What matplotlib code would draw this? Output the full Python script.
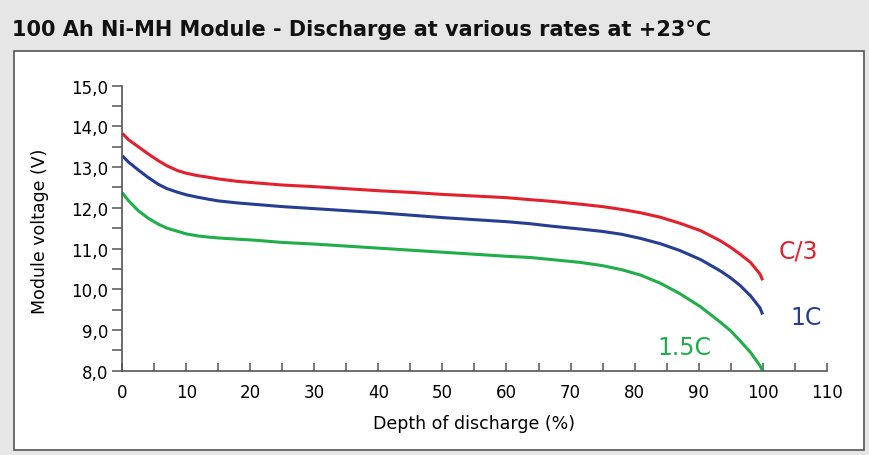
import numpy as np
import matplotlib.pyplot as plt
from matplotlib.patches import Rectangle
from matplotlib.ticker import MultipleLocator

# --- DATA ---
dod = [0, 1, 2.5, 4, 5.6, 7, 8.7, 10, 11.8, 13.5, 15, 18, 20.7, 25, 30, 35, 40, 45, 50, 55,
       60, 63.7, 67, 71.5, 75, 78, 80.9, 84, 87.1, 90.3, 93.4, 95, 96.5, 98.1, 99.6, 100]
v_c3 = [13.83, 13.67, 13.50, 13.33, 13.16, 13.03, 12.91, 12.85, 12.79, 12.75, 12.71, 12.65,
        12.615, 12.56, 12.52, 12.47, 12.42, 12.38, 12.33, 12.29, 12.25, 12.20, 12.16, 12.09,
        12.03, 11.96, 11.88, 11.77, 11.62, 11.44, 11.19, 11.03, 10.86, 10.66, 10.37, 10.22]
v_1c = [13.28, 13.12, 12.93, 12.75, 12.58, 12.47, 12.38, 12.32, 12.26, 12.21, 12.17, 12.12,
        12.085, 12.03, 11.98, 11.93, 11.88, 11.82, 11.76, 11.71, 11.66, 11.61, 11.55, 11.48,
        11.42, 11.35, 11.25, 11.12, 10.95, 10.73, 10.45, 10.28, 10.09, 9.84, 9.54, 9.38]
v_15c = [12.37, 12.17, 11.93, 11.75, 11.60, 11.50, 11.42, 11.36, 11.31, 11.28, 11.26, 11.23,
         11.205, 11.15, 11.11, 11.06, 11.01, 10.96, 10.91, 10.86, 10.81, 10.78, 10.73, 10.66,
         10.58, 10.48, 10.35, 10.15, 9.89, 9.57, 9.19, 8.98, 8.73, 8.45, 8.12, 8.00]
yticks = [8, 9, 10, 11, 12, 13, 14, 15]

series = [
    ("C/3", v_c3, "#e3202b", (105.6, 10.95)),
    ("1C", v_1c, "#263d94", (106.8, 9.32)),
    ("1.5C", v_15c, "#1fae4a", (87.8, 8.58)),
]

fig = plt.figure(figsize=(8.69, 4.56), dpi=100)
fig.patch.set_facecolor("#e6e6e6")

# white panel behind the chart
fig.patches.append(Rectangle((0.0161, 0.011), 0.978, 0.875, transform=fig.transFigure,
                             facecolor="white", edgecolor="#555555", linewidth=1.2, zorder=-5))

fig.text(0.014, 0.935, "100 Ah Ni-MH Module - Discharge at various rates at +23°C",
         fontsize=15, fontweight="bold", ha="left", va="center", color="#111111")

ax = fig.add_axes([0.1407, 0.1849, 0.8106, 0.625])
ax.patch.set_alpha(0)

for name, vals, col, (lx, ly) in series:
    ax.plot(dod, vals, color=col, linewidth=2.2, solid_capstyle="butt", clip_on=False)
    ax.text(lx, ly, name, color=col, fontsize=17, fontweight="medium",
            ha="center", va="center", clip_on=False)

ax.set_xlim(0, 110)
ax.set_ylim(8, 15)
ax.xaxis.set_major_locator(MultipleLocator(10))
ax.xaxis.set_minor_locator(MultipleLocator(5))
ax.set_yticks(yticks)
ax.set_yticklabels([f"{t:.1f}".replace(".", ",") for t in yticks])
ax.yaxis.set_minor_locator(MultipleLocator(0.5))

for s in ["top", "right"]:
    ax.spines[s].set_visible(False)
for s in ["left", "bottom"]:
    ax.spines[s].set_color("#555555")
    ax.spines[s].set_linewidth(1.2)

ax.tick_params(axis="x", which="both", direction="in", length=6, width=1.1,
               color="#555555", labelsize=12, pad=9)
ax.tick_params(axis="y", which="both", direction="out", length=7, width=1.1,
               color="#555555", labelsize=12, pad=3)

fig.text(0.545, 0.07, "Depth of discharge (%)", fontsize=12.5, ha="center", va="center")
fig.text(0.046, 0.493, "Module voltage (V)", fontsize=12.5, rotation=90, ha="center", va="center")

fig.savefig("out.png", dpi=100, facecolor=fig.get_facecolor())
